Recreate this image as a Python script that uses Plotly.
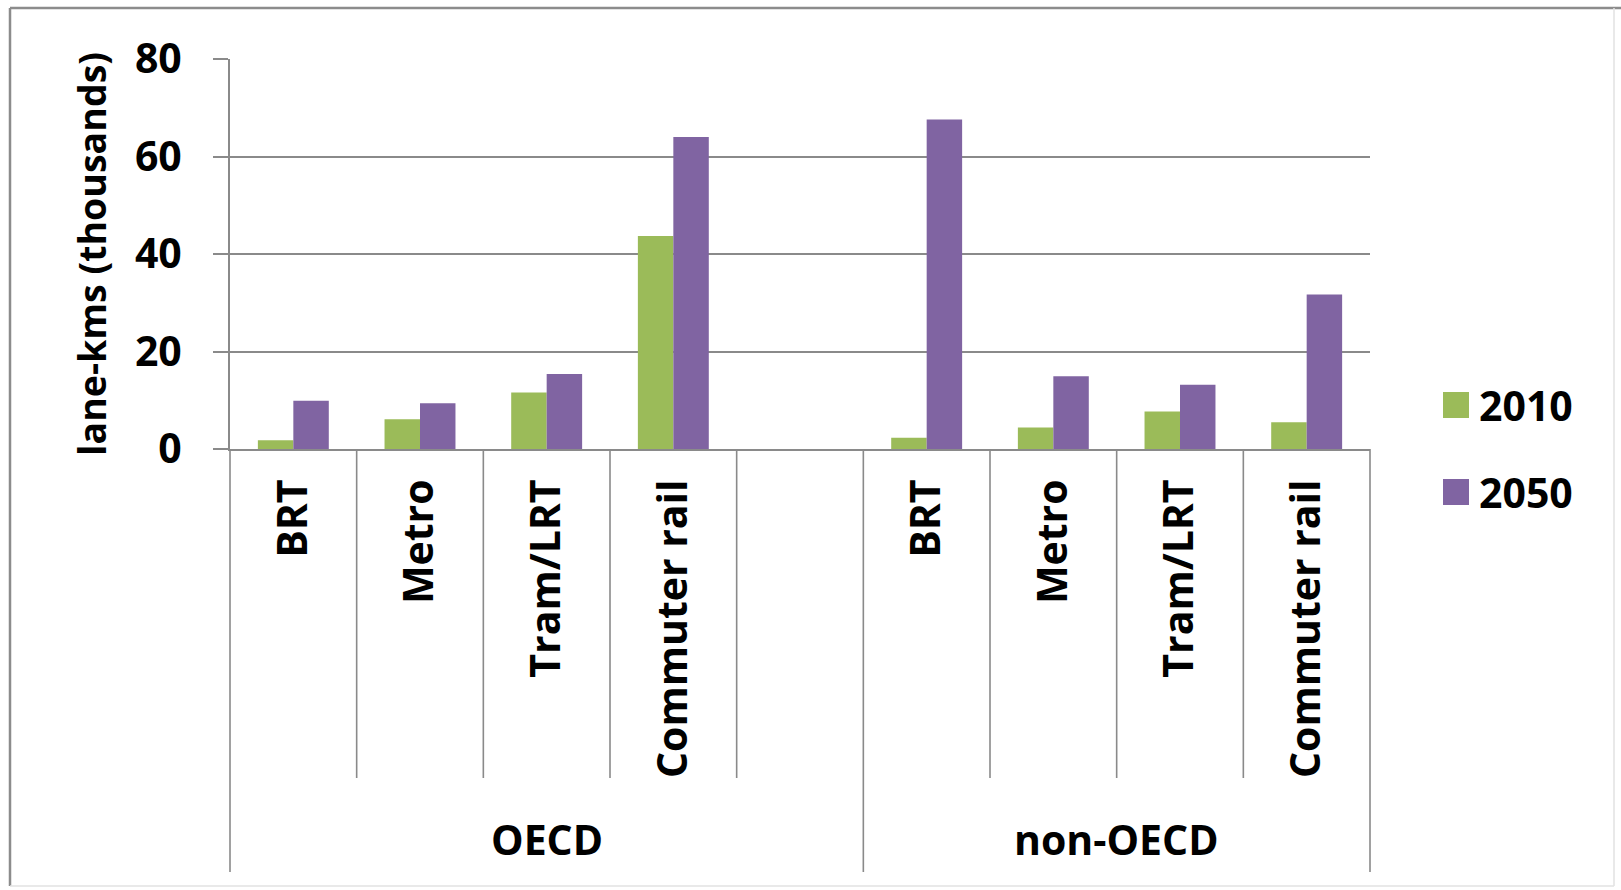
import plotly.graph_objects as go

# Urban transit network length by mode and region
modes = ["BRT", "Metro", "Tram/LRT", "Commuter rail"]
regions = ["OECD", "non-OECD"]
years = ["2010", "2050"]
oecd_2010 = [1.8, 6.1, 11.6, 43.7]
oecd_2050 = [9.9, 9.4, 15.4, 64.0]
non_oecd_2010 = [2.3, 4.4, 7.7, 5.5]
non_oecd_2050 = [67.6, 14.9, 13.2, 31.7]
y_ticks = [0, 20, 40, 60, 80]

year_colors = ["#9BBB59", "#8064A2"]
axis_grey = "#8a8a8a"
FONT = "Open Sans"
FS = 41        # tick labels, category labels, legend
FS_TITLE = 37.5

W, H = 1621, 890
PL, PR, PT, PB = 230, 1370, 59, 449  # plot area in pixels


def px(x):
    return (x - PL) / (PR - PL)


def py(y):
    return (PB - y) / (PB - PT)


def bold(size):
    return dict(family=FONT, size=size, color="black", weight="bold")


# each region gets its modes plus one empty slot after it
slots = len(modes) + 1
x_pos, x_text = [], []
for g, _ in enumerate(regions):
    for i, m in enumerate(modes):
        x_pos.append(g * slots + i)
        x_text.append(m)
n_slots = slots * len(regions) - 1

series = {
    "2010": oecd_2010 + non_oecd_2010,
    "2050": oecd_2050 + non_oecd_2050,
}

fig = go.Figure()
for yr, col in zip(years, year_colors):
    fig.add_trace(go.Bar(x=x_pos, y=series[yr], name=yr, marker_color=col,
                         marker_line_width=0, showlegend=False))

shapes, annotations = [], []

# category dividers below the axis
for b in range(n_slots + 1):
    long_line = (b % slots == 0) or b == n_slots
    y_end = 872 if long_line else 778
    shapes.append(dict(type="line", xref="paper", yref="paper",
                       x0=b / n_slots, x1=b / n_slots,
                       y0=0, y1=py(y_end),
                       line=dict(color=axis_grey, width=1.6)))

# region labels, centred on each region's span of slots
for g, reg in enumerate(regions):
    start = g * slots
    end = min(start + slots, n_slots)
    cx = (start + end) / 2 / n_slots
    annotations.append(dict(text=reg, xref="paper", yref="paper", x=cx, y=py(839),
                            showarrow=False, xanchor="center", yanchor="middle",
                            font=bold(FS)))

# legend
for k, (yr, col) in enumerate(zip(years, year_colors)):
    cy = 405 + k * 87
    shapes.append(dict(type="rect", xref="paper", yref="paper",
                       x0=px(1443), x1=px(1469), y0=py(cy - 13), y1=py(cy + 13),
                       fillcolor=col, line=dict(width=0)))
    annotations.append(dict(text=yr, xref="paper", yref="paper", x=px(1477), y=py(cy),
                            showarrow=False, xanchor="left", yanchor="middle",
                            font=bold(FS)))

# outer frame
shapes.append(dict(type="line", xref="paper", yref="paper", x0=px(10), x1=px(10),
                   y0=py(8), y1=py(886), line=dict(color="#8c8c8c", width=2.5)))
shapes.append(dict(type="line", xref="paper", yref="paper", x0=px(10), x1=px(1621),
                   y0=py(8), y1=py(8), line=dict(color="#8c8c8c", width=2.5)))
shapes.append(dict(type="line", xref="paper", yref="paper", x0=px(1614), x1=px(1614),
                   y0=py(8), y1=py(886), line=dict(color="#e2e2e2", width=1.5)))
shapes.append(dict(type="line", xref="paper", yref="paper", x0=px(10), x1=px(1614),
                   y0=py(886), y1=py(886), line=dict(color="#e2e2e2", width=1.5)))

fig.update_layout(
    width=W, height=H,
    margin=dict(l=PL, r=W - PR, t=PT, b=H - PB),
    paper_bgcolor="white", plot_bgcolor="white",
    barmode="group", bargap=0.44, bargroupgap=0,
    shapes=shapes, annotations=annotations,
    font=bold(FS),
)
fig.update_xaxes(
    range=[-0.5, n_slots - 0.5],
    tickvals=x_pos, ticktext=x_text, tickangle=-90,
    ticks="outside", ticklen=12, tickcolor="rgba(0,0,0,0)",
    showline=True, linecolor=axis_grey, linewidth=2,
    showgrid=False, zeroline=False,
    tickfont=bold(FS),
)
fig.update_yaxes(
    range=[0, 80], tickvals=y_ticks,
    ticks="outside", ticklen=15, tickcolor=axis_grey, tickwidth=2,
    ticklabelstandoff=23,
    showline=True, linecolor=axis_grey, linewidth=2,
    showgrid=True, gridcolor=axis_grey, gridwidth=2, zeroline=False,
    tickfont=bold(FS),
    title=dict(text="lane-kms (thousands)", standoff=17, font=bold(FS_TITLE)),
)

fig.write_html("out.html")
